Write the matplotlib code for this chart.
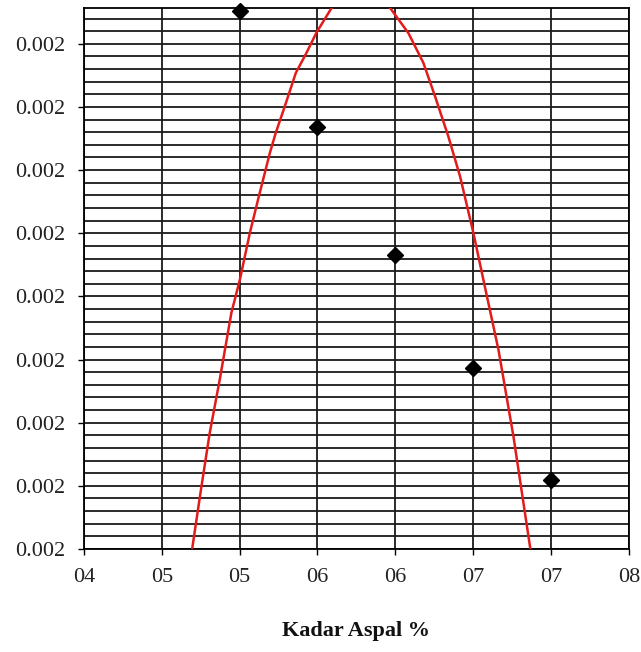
import matplotlib.pyplot as plt
from matplotlib.ticker import MultipleLocator

# titik data hasil uji (diamond hitam)
kadar_aspal = [5.0, 5.5, 6.0, 6.5, 7.0]
nilai_uji = [0.002452, 0.002268, 0.002065, 0.001886, 0.001709]

# kurva merah (puncak di atas batas sumbu)
kurva_x = [4.696, 4.754, 4.808, 4.872, 4.947, 5.001, 5.066, 5.118, 5.194, 5.232,
           5.290, 5.361, 5.430, 5.494, 5.591, 5.780, 5.966, 6.084, 6.180, 6.255,
           6.341, 6.416, 6.502, 6.566, 6.663, 6.759, 6.867]
kurva_y = [0.001602, 0.001698, 0.001784, 0.001868, 0.001974, 0.002026, 0.002101,
           0.002153, 0.002227, 0.002259, 0.002301, 0.002354, 0.002386, 0.002418,
           0.002457, 0.002484, 0.002457, 0.002417, 0.002370, 0.002317, 0.002253,
           0.002190, 0.002100, 0.002026, 0.001915, 0.001778, 0.001601]

x_ticks = [4.0, 4.5, 5.0, 5.5, 6.0, 6.5, 7.0, 7.5]
x_tick_labels = ['04', '05', '05', '06', '06', '07', '07', '08']
y_ticks = [0.0016, 0.0017, 0.0018, 0.0019, 0.0020, 0.0021, 0.0022, 0.0023, 0.0024]
y_tick_labels = ['0.002'] * len(y_ticks)

plt.rcParams['font.family'] = ['Liberation Serif', 'DejaVu Serif']

fig = plt.figure(figsize=(6.41, 6.52), dpi=100)
ax = fig.add_axes([0.131, 0.158, 0.850, 0.830])

ax.plot(kurva_x, kurva_y, color='#e31b1b', lw=1.8, zorder=3)
ax.plot(kadar_aspal, nilai_uji, linestyle='none', marker='D', ms=8.5,
        color='black', zorder=4, clip_on=False)

ax.set_xlim(4.0, 7.5)
ax.set_ylim(0.0016, 0.002457)
ax.set_xticks(x_ticks)
ax.set_xticklabels(x_tick_labels)
ax.set_yticks(y_ticks)
ax.set_yticklabels(y_tick_labels)
ax.yaxis.set_minor_locator(MultipleLocator(0.00002))

ax.grid(True, which='major', axis='both', color='#1a1a1a', lw=1.3)
ax.grid(True, which='minor', axis='y', color='#1a1a1a', lw=1.3)
ax.set_axisbelow(True)

ax.tick_params(which='major', direction='out', length=4.5, width=1.0,
               labelsize=16, colors='black', labelcolor='#222222')
ax.tick_params(axis='y', which='major', pad=9)
ax.tick_params(axis='x', which='major', pad=9)
ax.tick_params(which='minor', length=0)
for s in ax.spines.values():
    s.set_color('black')
    s.set_linewidth(1.3)

ax.set_xlabel('Kadar Aspal %', fontsize=16, fontweight='bold', labelpad=25,
              color='#111111')

fig.savefig('out.png', dpi=100)
